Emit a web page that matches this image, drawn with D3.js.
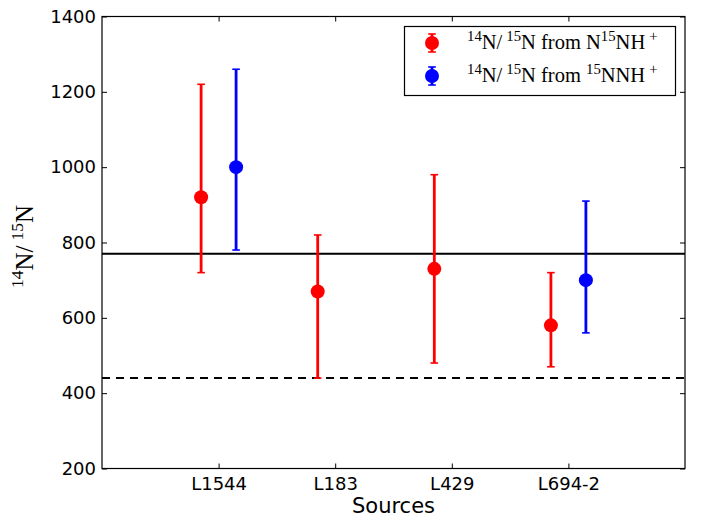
<!DOCTYPE html>
<html>
<head>
<meta charset="utf-8">
<script src="https://cdn.jsdelivr.net/npm/d3@7"></script>
<style>
  html, body { margin: 0; padding: 0; background: #fff; }
  svg { display: block; }
</style>
</head>
<body>
<svg id="chart" width="702" height="521"></svg>
<script>
// ---- data ----
const categories = ["L1544", "L183", "L429", "L694-2"];
const redValues = [920, 670, 730, 580];
const redLow    = [720, 440, 480, 470];
const redHigh   = [1220, 820, 980, 720];
const blueValues = [1000, null, null, 700];
const blueLow    = [780, null, null, 560];
const blueHigh   = [1260, null, null, 910];
const yTicks = [200, 400, 600, 800, 1000, 1200, 1400];
const solidLineValue = 770;
const dashedLineValue = 440;

// ---- layout ----
const svg = d3.select("#chart");
const L = 102, R = 685, T = 16.5, B = 468.5;
const x = d3.scaleLinear().domain([0, categories.length + 1]).range([L, R]);
const y = d3.scaleLinear().domain([200, 1400]).range([B, T]);
const tickFont = "'DejaVu Sans', sans-serif";
const serif = "'Liberation Serif', 'DejaVu Serif', serif";

// reference lines
svg.append("line").attr("x1", L).attr("x2", R)
  .attr("y1", y(solidLineValue)).attr("y2", y(solidLineValue))
  .attr("stroke", "#000").attr("stroke-width", 2);
svg.append("line").attr("x1", L).attr("x2", R)
  .attr("y1", y(dashedLineValue)).attr("y2", y(dashedLineValue))
  .attr("stroke", "#000").attr("stroke-width", 2).attr("stroke-dasharray", "8,6");

// series
const series = [
  { color: "red",  off: -0.15, v: redValues,  lo: redLow,  hi: redHigh },
  { color: "blue", off:  0.15, v: blueValues, lo: blueLow, hi: blueHigh }
];
series.forEach(s => {
  const pts = categories.map((c, i) => ({ i, v: s.v[i], lo: s.lo[i], hi: s.hi[i] }))
    .filter(d => d.v != null);
  const g = svg.append("g");
  pts.forEach(d => {
    const cx = x(d.i + 1 + s.off);
    g.append("line").attr("x1", cx).attr("x2", cx).attr("y1", y(d.lo)).attr("y2", y(d.hi))
      .attr("stroke", s.color).attr("stroke-width", 2.8);
    [d.lo, d.hi].forEach(vv => {
      g.append("line").attr("x1", cx - 3.8).attr("x2", cx + 3.8).attr("y1", y(vv)).attr("y2", y(vv))
        .attr("stroke", s.color).attr("stroke-width", 1.6);
    });
    g.append("circle").attr("cx", cx).attr("cy", y(d.v)).attr("r", 7).attr("fill", s.color);
  });
});

// axes (ticks inward on all four sides)
const xTickVals = categories.map((c, i) => i + 1);
const axB = d3.axisBottom(x).tickValues(xTickVals).tickFormat((d) => categories[d - 1]).tickSizeInner(-5).tickSizeOuter(0).tickPadding(9);
const axT = d3.axisTop(x).tickValues(xTickVals).tickFormat("").tickSizeInner(-5).tickSizeOuter(0);
const axLft = d3.axisLeft(y).tickValues(yTicks).tickFormat(d3.format("d")).tickSizeInner(-5).tickSizeOuter(0).tickPadding(6);
const axRgt = d3.axisRight(y).tickValues(yTicks).tickFormat("").tickSizeInner(-5).tickSizeOuter(0);

function style(g) {
  g.select(".domain").remove();
  g.selectAll(".tick line").attr("stroke", "#000").attr("stroke-width", 1);
  g.selectAll("text").attr("font-family", tickFont).attr("font-size", 18).attr("fill", "#000");
}
svg.append("g").attr("transform", `translate(0,${B})`).call(axB).call(style);
svg.append("g").attr("transform", `translate(0,${T})`).call(axT).call(style);
svg.append("g").attr("transform", `translate(${L},0)`).call(axLft).call(style);
svg.append("g").attr("transform", `translate(${R},0)`).call(axRgt).call(style);

// frame
svg.append("rect").attr("x", L).attr("y", T).attr("width", R - L).attr("height", B - T)
  .attr("fill", "none").attr("stroke", "#000").attr("stroke-width", 1.2);

// axis labels
svg.append("text").attr("x", (L + R) / 2).attr("y", 513).attr("text-anchor", "middle")
  .attr("font-family", tickFont).attr("font-size", 21).text("Sources");

function ratioText(t, size) {
  t.append("tspan").attr("font-size", size * 0.7).attr("dy", -size * 0.4).text("14");
  t.append("tspan").attr("font-size", size).attr("dy", size * 0.4).text("N/\u2009");
  t.append("tspan").attr("font-size", size * 0.7).attr("dy", -size * 0.4).text("15");
  t.append("tspan").attr("font-size", size).attr("dy", size * 0.4).text("N");
}
const yl = svg.append("text").attr("transform", `translate(33,${(T + B) / 2 + 4}) rotate(-90)`)
  .attr("text-anchor", "middle").attr("font-family", serif).attr("font-size", 25);
ratioText(yl, 25);

// legend
const lg = svg.append("g");
lg.append("rect").attr("x", 404.5).attr("y", 26.5).attr("width", 271).attr("height", 69)
  .attr("fill", "#fff").attr("stroke", "#000").attr("stroke-width", 1.2);
const legendItems = [
  { color: "red", parts: [["sup","14"],["n","N/\u2009"],["sup","15"],["n","N from N"],["sup","15"],["n","NH\u2009"],["sup","+"]] },
  { color: "blue", parts: [["sup","14"],["n","N/\u2009"],["sup","15"],["n","N from "],["sup","15"],["n","NNH\u2009"],["sup","+"]] }
];
legendItems.forEach((it, k) => {
  const cy = 43 + k * 33;
  const cx = 432;
  lg.append("line").attr("x1", cx).attr("x2", cx).attr("y1", cy - 9).attr("y2", cy + 9)
    .attr("stroke", it.color).attr("stroke-width", 2.8);
  [cy - 9, cy + 9].forEach(yy => lg.append("line").attr("x1", cx - 3.8).attr("x2", cx + 3.8)
    .attr("y1", yy).attr("y2", yy).attr("stroke", it.color).attr("stroke-width", 1.6));
  lg.append("circle").attr("cx", cx).attr("cy", cy).attr("r", 7).attr("fill", it.color);
  const size = 20.5;
  const t = lg.append("text").attr("x", 467).attr("y", cy + 6).attr("font-family", serif).attr("font-size", size);
  let up = false;
  it.parts.forEach(([kind, s]) => {
    const sp = t.append("tspan").text(s);
    if (kind === "sup") { sp.attr("font-size", size * 0.72).attr("dy", up ? 0 : -size * 0.4); up = true; }
    else { sp.attr("font-size", size).attr("dy", up ? size * 0.4 : 0); up = false; }
  });
});
</script>
</body>
</html>
